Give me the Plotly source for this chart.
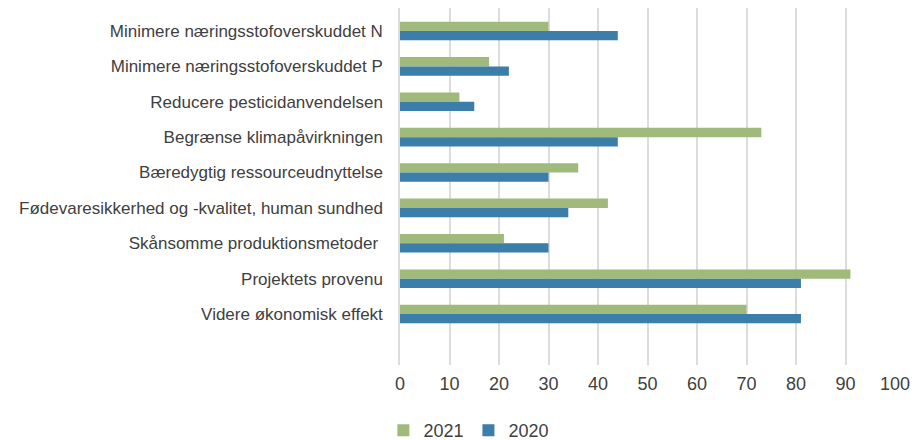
import plotly.graph_objects as go

categories = [
    "Minimere næringsstofoverskuddet N",
    "Minimere næringsstofoverskuddet P",
    "Reducere pesticidanvendelsen",
    "Begrænse klimapåvirkningen",
    "Bæredygtig ressourceudnyttelse",
    "Fødevaresikkerhed og -kvalitet, human sundhed",
    "Skånsomme produktionsmetoder ",
    "Projektets provenu",
    "Videre økonomisk effekt",
]
values_2021 = [30, 18, 12, 73, 36, 42, 21, 91, 70]
values_2020 = [44, 22, 15, 44, 30, 34, 30, 81, 81]
x_ticks = [0, 10, 20, 30, 40, 50, 60, 70, 80, 90, 100]

GREEN = "#9fba7b"
BLUE = "#3a7ea9"
TEXT = "#404040"

fig = go.Figure()
fig.add_trace(go.Bar(y=categories, x=values_2021, name="2021", orientation="h",
                     marker=dict(color=GREEN, line=dict(width=0))))
fig.add_trace(go.Bar(y=categories, x=values_2020, name="2020", orientation="h",
                     marker=dict(color=BLUE, line=dict(width=0))))

fig.update_layout(
    width=914, height=440,
    margin=dict(l=400, r=19, t=8, b=75),
    paper_bgcolor="white", plot_bgcolor="white",
    barmode="group", bargap=0.475, bargroupgap=0.0,
    font=dict(family="Liberation Sans, Arial, sans-serif", size=17, color=TEXT),
    showlegend=True,
    legend=dict(orientation="h", xref="container", yref="container",
                x=0.513, xanchor="center", y=0.0636, yanchor="top",
                font=dict(size=18, color=TEXT), traceorder="normal",
                itemwidth=30),
)
fig.update_xaxes(range=[0, 100], tickvals=x_ticks, showgrid=True,
                 gridcolor="#dcdcdc", gridwidth=1.5, zeroline=False,
                 showline=False, ticks="", ticklabelstandoff=6,
                 tickfont=dict(size=18, color=TEXT),
                 automargin=False, fixedrange=True)
fig.update_yaxes(categoryorder="array", categoryarray=categories,
                 range=[9.44, -0.65], showgrid=False, zeroline=False,
                 showline=True, linecolor="#dcdcdc", linewidth=1.5,
                 ticks="", ticklabelstandoff=12,
                 tickfont=dict(size=17, color=TEXT),
                 automargin=False, fixedrange=True)

fig.write_html("out.html", post_script="document.body.style.margin='0';",
               config={"displayModeBar": False})
